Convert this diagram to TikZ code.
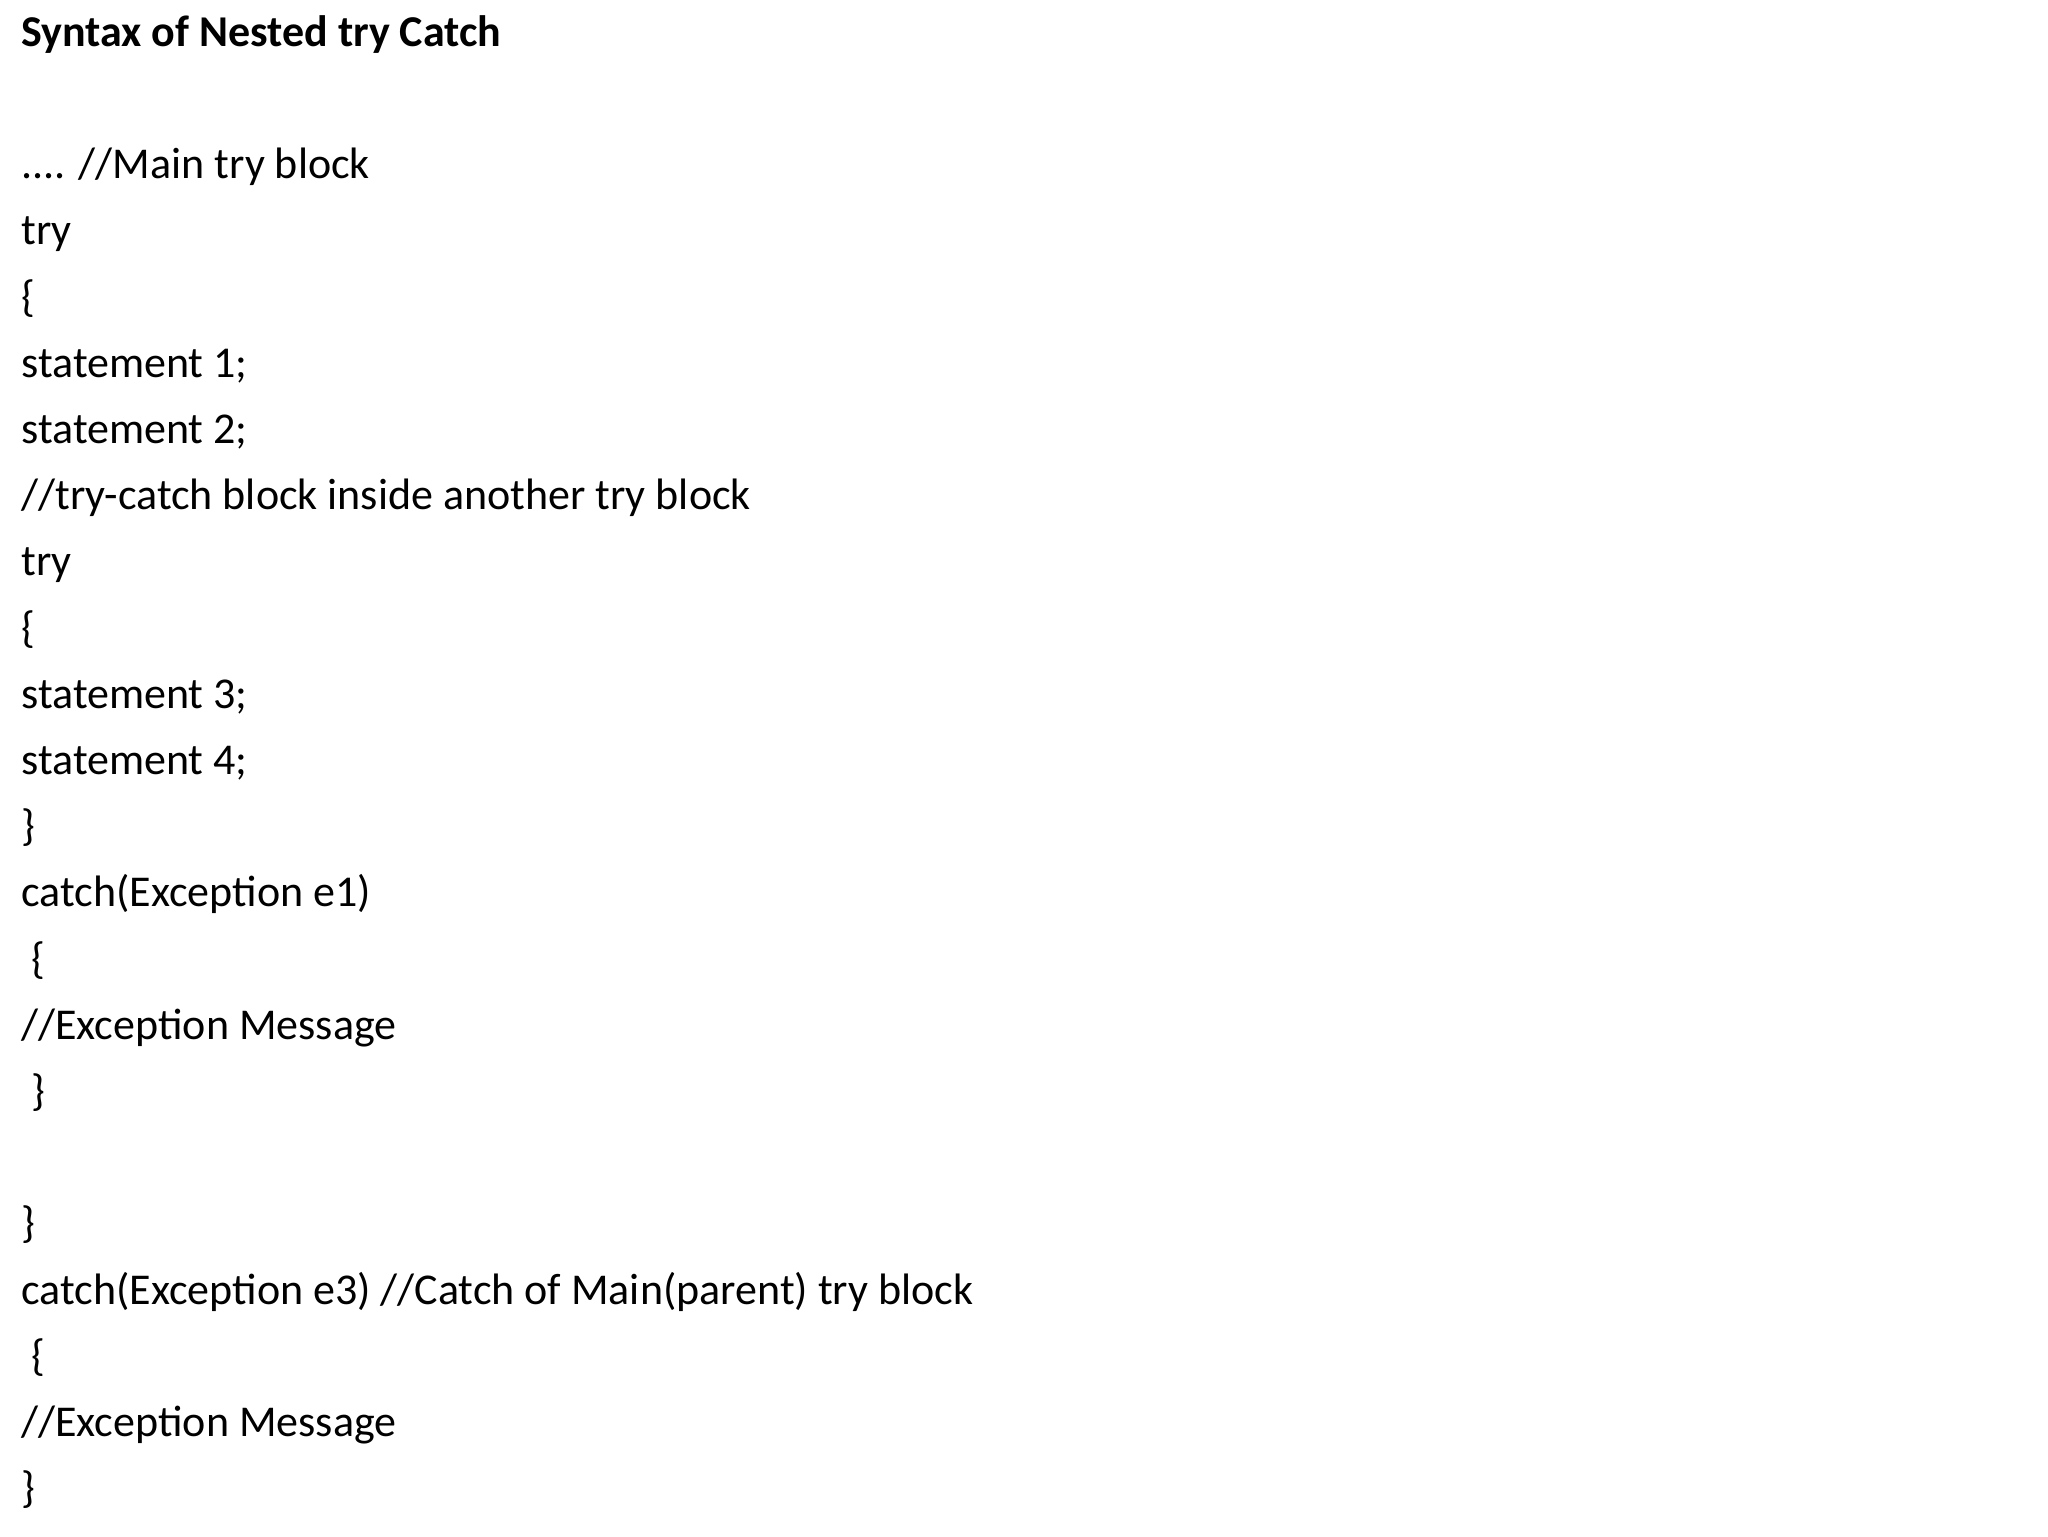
\documentclass[tikz,border=0pt]{standalone}
\usepackage{fontspec}
\setmainfont{Carlito}
\begin{document}
\begin{tikzpicture}[x=0.5pt,y=-0.5pt,
  ln/.style={anchor=mid west,inner sep=0pt,font=\fontsize{22}{26}\selectfont}]
\useasboundingbox (0,0) rectangle (2048,1536);
\node[ln,font=\fontsize{22}{26}\selectfont\bfseries] (t) at (21,42) {Syntax of Nested try Catch};
\def\Y#1{174+66.2*#1}
\node[ln] (l0) at (21,{\Y{0}}) {.... //Main try block};
\node[ln] (l1) at (21,{\Y{1}}) {try};
\node[ln] (l2) at (21,{\Y{2}}) {\{};
\node[ln] (l3) at (21,{\Y{3}}) {statement 1;};
\node[ln] (l4) at (21,{\Y{4}}) {statement 2;};
\node[ln] (l5) at (21,{\Y{5}}) {//try-catch block inside another try block};
\node[ln] (l6) at (21,{\Y{6}}) {try};
\node[ln] (l7) at (21,{\Y{7}}) {\{};
\node[ln] (l8) at (21,{\Y{8}}) {statement 3;};
\node[ln] (l9) at (21,{\Y{9}}) {statement 4;};
\node[ln] (l10) at (21,{\Y{10}}) {\}};
\node[ln] (l11) at (21,{\Y{11}}) {catch(Exception e1)};
\node[ln] (l12) at (31,{\Y{12}}) {\{};
\node[ln] (l13) at (21,{\Y{13}}) {//Exception Message};
\node[ln] (l14) at (31,{\Y{14}}) {\}};
\node[ln] (l16) at (21,{\Y{16}}) {\}};
\node[ln] (l17) at (21,{\Y{17}}) {catch(Exception e3) //Catch of Main(parent) try block};
\node[ln] (l18) at (31,{\Y{18}}) {\{};
\node[ln] (l19) at (21,{\Y{19}}) {//Exception Message};
\node[ln] (l20) at (21,{\Y{20}}) {\}};
\end{tikzpicture}
\end{document}
